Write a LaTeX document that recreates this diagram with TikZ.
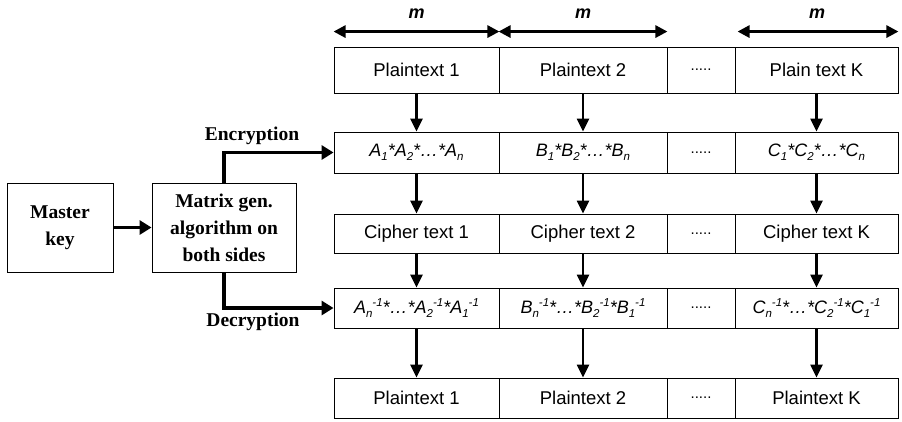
\documentclass[tikz,border=0pt]{standalone}
\usepackage{fontspec}
\setmainfont{Liberation Sans}
\newfontfamily\tnr{Liberation Serif}
\usetikzlibrary{arrows.meta}
% small raised / lowered indices in text mode
\newcommand\lo[1]{\raisebox{-0.4ex}{\fontsize{11.5}{11.5}\selectfont #1}}
\newcommand\hi[1]{\raisebox{0.8ex}{\fontsize{11.5}{11.5}\selectfont #1}}
\begin{document}
\begin{tikzpicture}[x=1pt,y=-1pt,
  cell/.style={draw, line width=0.9pt, inner sep=0pt, minimum height=#1,
               font=\fontsize{18.5}{18.5}\selectfont},
  cell/.default=40pt,
  w1/.style={minimum width=165pt},
  w2/.style={minimum width=168pt},
  wd/.style={minimum width=68pt, font=\fontsize{15}{15}\selectfont},
  wk/.style={minimum width=163pt},
  frm/.style={font=\itshape\fontsize{18}{18}\selectfont},
  lbox/.style={draw, line width=0.9pt, inner sep=0pt, align=center,
               minimum height=89pt, font=\tnr\bfseries\fontsize{19.5}{27}\selectfont},
  lbl/.style={font=\tnr\bfseries\fontsize{19.5}{19.5}\selectfont},
  mlbl/.style={font=\bfseries\itshape\fontsize{18}{18}\selectfont},
  flow/.style={line width=2.4pt, -{Triangle[length=13pt,width=12pt]}},
  link/.style={line width=3.2pt, -{Triangle[length=12pt,width=14pt]}},
  dim/.style={line width=2.8pt,
              {Triangle[length=12pt,width=12pt]}-{Triangle[length=12pt,width=12pt]}}]
\useasboundingbox (0,0) rectangle (902,421);

% row 1: plaintext blocks
\node[cell=46pt, w1] (p1) at (416.5,70) {Plaintext 1};
\node[cell=46pt, w2] (p2) at (583,70) {Plaintext 2};
\node[cell=46pt, wd] (pd) at (701,70) {.....};
\node[cell=46pt, wk] (pk) at (816.5,70) {Plain text K};

% row 2: encryption matrices
\node[cell=41pt, w1, frm] (a1) at (416.5,152.5) {A\lo{1}*A\lo{2}*\ldots*A\lo{n}};
\node[cell=41pt, w2, frm] (a2) at (583,152.5) {B\lo{1}*B\lo{2}*\ldots*B\lo{n}};
\node[cell=41pt, wd] (ad) at (701,152.5) {.....};
\node[cell=41pt, wk, frm] (ak) at (816.5,152.5) {C\lo{1}*C\lo{2}*\ldots*C\lo{n}};

% row 3: ciphertext blocks
\node[cell=39pt, w1] (c1) at (416.5,233.5) {Cipher text 1};
\node[cell=39pt, w2] (c2) at (583,233.5) {Cipher text 2};
\node[cell=39pt, wd] (cd) at (701,233.5) {.....};
\node[cell=39pt, wk] (ck) at (816.5,233.5) {Cipher text K};

% row 4: inverse matrices
\node[cell=40pt, w1, frm] (i1) at (416.5,308)
  {A\lo{n}\hi{-1}*\ldots*A\lo{2}\hi{-1}*A\lo{1}\hi{-1}};
\node[cell=40pt, w2, frm] (i2) at (583,308)
  {B\lo{n}\hi{-1}*\ldots*B\lo{2}\hi{-1}*B\lo{1}\hi{-1}};
\node[cell=40pt, wd] (id) at (701,308) {.....};
\node[cell=40pt, wk, frm] (ik) at (816.5,308)
  {C\lo{n}\hi{-1}*\ldots*C\lo{2}\hi{-1}*C\lo{1}\hi{-1}};

% row 5: recovered plaintext
\node[cell=40pt, w1] (q1) at (416.5,398) {Plaintext 1};
\node[cell=40pt, w2] (q2) at (583,398) {Plaintext 2};
\node[cell=40pt, wd] (qd) at (701,398) {.....};
\node[cell=40pt, wk] (qk) at (816.5,398) {Plaintext K};

% block width markers above the first row
\draw[dim] ([yshift=15pt]p1.north west) -- ([yshift=15pt]p1.north east);
\draw[dim] ([yshift=15pt]p2.north west) -- ([yshift=15pt]p2.north east);
\draw[dim] ([xshift=3pt,yshift=15pt]pk.north west) -- ([yshift=15pt]pk.north east);
\node[mlbl] (m1) at (416.5,14) {m};
\node[mlbl] (m2) at (583,14) {m};
\node[mlbl] (mk) at (817,14) {m};

% vertical flow in each column
\foreach \c in {1,2,k}{
  \draw[flow] (p\c) -- (a\c);
  \draw[flow] (a\c) -- (c\c);
  \draw[flow] (c\c) -- (i\c);
  \draw[flow] (i\c) -- (q\c);
}

% key generation
\node[lbox, minimum width=106pt] (mk0) at (60,227.5) {Master\\key};
\node[lbox, minimum width=144pt] (mg) at (224,227.5) {Matrix gen.\\algorithm on\\both sides};
\draw[link] (mk0) -- (mg);
\draw[link] (mg.north) |- (a1.west);
\draw[link] (mg.south) |- (i1.west);
\node[lbl] (enc) at (252,136) {Encryption};
\node[lbl] (dec) at (253,322) {Decryption};
\end{tikzpicture}
\end{document}
